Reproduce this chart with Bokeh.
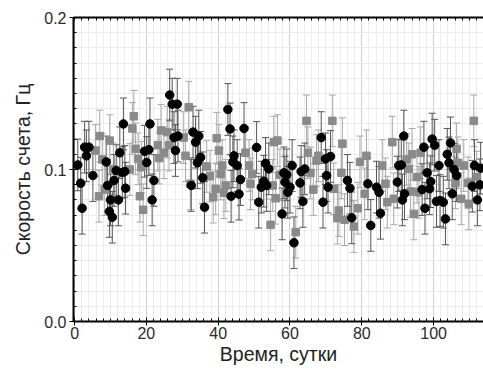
from bokeh.plotting import figure
from bokeh.models import (ColumnDataSource, Whisker, TeeHead, FixedTicker,
                          LinearAxis, Range1d, PrintfTickFormatter)
from bokeh.embed import file_html
from bokeh.resources import INLINE

# Count rate of two detectors, days vs Hz
black_t = [0.9, 1.7, 2.1, 2.8, 3.3, 4.0, 5.1, 8.8, 9.2, 9.7, 10.0, 10.5, 11.0, 11.6,
           12.2, 12.6, 13.3, 13.6, 14.0, 14.2, 19.5, 20.1, 20.7, 21.0, 21.6, 22.1,
           26.5, 27.2, 27.7, 28.1, 28.6, 28.8, 32.5, 33.0, 33.7, 34.2, 34.6, 35.1,
           35.7, 36.2, 42.7, 43.3, 43.6, 44.1, 44.4, 45.3, 45.8, 46.2, 47.2, 50.7,
           51.3, 52.0, 52.7, 53.2, 53.5, 54.1, 57.8, 58.3, 58.6, 59.1, 59.4, 60.0,
           60.6, 61.1, 62.8, 63.1, 63.6, 64.1, 68.7, 69.2, 69.9, 70.2, 70.6, 71.3,
           76.0, 76.7, 77.2, 81.7, 82.5, 84.1, 84.8, 85.2, 89.9, 90.3, 91.0, 91.3,
           91.7, 91.9, 96.8, 97.3, 97.6, 98.2, 98.9, 99.2, 99.6, 100.3, 100.8,
           101.5, 101.8, 102.7, 103.3, 103.8, 104.3, 104.7, 105.2, 105.7, 106.4,
           110.8, 111.4, 112.2, 112.9, 113.1]
black_rate = [0.103, 0.091, 0.0745, 0.1147, 0.109, 0.1147, 0.096, 0.105, 0.0895,
              0.0724, 0.080, 0.0686, 0.0928, 0.0993, 0.080, 0.111, 0.098, 0.130,
              0.0987, 0.0877, 0.112, 0.1046, 0.113, 0.130, 0.080, 0.0928, 0.149,
              0.143, 0.121, 0.1125, 0.143, 0.122, 0.0895, 0.1246, 0.118, 0.1044,
              0.122, 0.108, 0.0945, 0.0752, 0.1395, 0.1267, 0.0824, 0.105, 0.109,
              0.1026, 0.0838, 0.0934, 0.127, 0.1145, 0.0785, 0.0884, 0.0923, 0.104,
              0.0895, 0.1004, 0.0708, 0.0978, 0.0917, 0.0965, 0.085, 0.0884, 0.1026,
              0.0518, 0.0912, 0.0987, 0.079, 0.1004, 0.121, 0.0785, 0.107, 0.096,
              0.0884, 0.1086, 0.0928, 0.0877, 0.0682, 0.0906, 0.0632, 0.0884, 0.085,
              0.0712, 0.0917, 0.1026, 0.103, 0.080, 0.122, 0.084, 0.0868, 0.1147,
              0.0745, 0.0978, 0.0873, 0.092, 0.120, 0.116, 0.079, 0.1026, 0.0796,
              0.0785, 0.0675, 0.110, 0.1044, 0.1175, 0.084, 0.100, 0.096, 0.089,
              0.1026, 0.080, 0.0899, 0.1009]
black_err = 0.017

gray_t = [5.8, 6.8, 7.0, 7.7, 8.4, 9.8, 10.8, 15.4, 16.1, 16.5, 17.0, 17.7, 18.2,
          18.6, 19.1, 23.2, 23.6, 24.1, 24.9, 25.8, 26.3, 30.4, 30.9, 31.8, 32.3,
          36.8, 37.7, 38.6, 39.3, 39.6, 40.2, 40.7, 41.1, 41.6, 42.1, 47.6, 48.6,
          49.0, 49.5, 54.6, 55.2, 55.5, 56.0, 56.5, 57.2, 61.6, 64.6, 65.0, 65.7,
          66.5, 67.4, 67.9, 71.8, 72.2, 73.2, 73.6, 74.3, 74.6, 75.2, 77.8, 78.9,
          79.5, 80.8, 81.3, 85.7, 86.6, 87.1, 88.5, 88.9, 92.5, 93.1, 93.6, 94.0,
          94.5, 95.4, 95.9, 96.4, 106.1, 106.4, 106.8, 107.7, 108.4, 109.6, 109.8,
          111.2, 112.0]
gray_rate = [0.1125, 0.0824, 0.122, 0.1066, 0.0868, 0.119, 0.1004, 0.100, 0.127,
             0.135, 0.1136, 0.107, 0.0824, 0.1015, 0.0735, 0.116, 0.1075, 0.1257,
             0.111, 0.1246, 0.116, 0.121, 0.109, 0.141, 0.0906, 0.102, 0.0956,
             0.0818, 0.0873, 0.1206, 0.1125, 0.097, 0.1026, 0.0847, 0.0895, 0.111,
             0.1026, 0.0906, 0.097, 0.0636, 0.0895, 0.118, 0.0811, 0.119, 0.0965,
             0.0588, 0.132, 0.111, 0.0977, 0.0868, 0.1059, 0.109, 0.132, 0.0873,
             0.068, 0.073, 0.0978, 0.117, 0.067, 0.0625, 0.0745, 0.105, 0.084,
             0.109, 0.1026, 0.0906, 0.0785, 0.118, 0.0807, 0.1066, 0.1004, 0.0855,
             0.110, 0.0708, 0.095, 0.085, 0.111, 0.0912, 0.1136, 0.1044, 0.0807,
             0.1026, 0.0912, 0.0774, 0.132, 0.095]
gray_err = 0.017

x_ticks = [0, 20, 40, 60, 80, 100, 120]
y_ticks = [0.0, 0.1, 0.2]
x_label = "Время, сутки"
y_label = "Скорость счета, Гц"

FONT = "Liberation Sans"


def with_bars(t, r, e):
    return ColumnDataSource(dict(t=t, r=r,
                                 lo=[v - e for v in r],
                                 hi=[v + e for v in r]))


src_black = with_bars(black_t, black_rate, black_err)
src_gray = with_bars(gray_t, gray_rate, gray_err)

p = figure(width=483, height=374, output_backend="svg", toolbar_location=None,
           x_range=Range1d(-0.3, 113.9), y_range=Range1d(0.0, 0.2),
           min_border_left=73, min_border_right=0, min_border_top=17,
           min_border_bottom=53, background_fill_color="white",
           border_fill_color="white")
p.outline_line_color = None

x_minor = [v * 2 for v in range(0, 61)]
y_minor = [v / 100 for v in range(0, 21)]
xt = FixedTicker(ticks=x_ticks, minor_ticks=x_minor)
yt = FixedTicker(ticks=y_ticks, minor_ticks=y_minor)

p.xaxis.ticker = xt
p.yaxis.ticker = yt
p.xgrid.ticker = xt
p.ygrid.ticker = yt

for g in (p.xgrid, p.ygrid):
    g.grid_line_color = "#cfcfcf"
    g.grid_line_width = 1
    g.minor_grid_line_color = "#ececec"
    g.minor_grid_line_width = 1

p.yaxis.formatter = PrintfTickFormatter(format="%.1f")
p.xaxis.axis_label = x_label
p.yaxis.axis_label = y_label

for ax in (p.xaxis, p.yaxis):
    ax.axis_line_color = "black"
    ax.axis_line_width = 2
    ax.major_tick_line_color = "black"
    ax.minor_tick_line_color = "black"
    ax.major_tick_in = 4
    ax.major_tick_out = 4
    ax.minor_tick_in = 3
    ax.minor_tick_out = 0
    ax.major_label_text_font = FONT
    ax.major_label_text_font_size = "16px"
    ax.major_label_text_color = "#2a2a2a"
    ax.axis_label_text_font = FONT
    ax.axis_label_text_font_size = "19.5px"
    ax.axis_label_text_font_style = "normal"
    ax.axis_label_text_color = "#222222"

p.xaxis.major_label_standoff = 1
p.xaxis.axis_label_standoff = 1
p.yaxis.major_label_standoff = 3
p.yaxis.axis_label_standoff = 7

# frame top edge with inward ticks only
top_ticker = FixedTicker(ticks=[], minor_ticks=x_minor)
top = LinearAxis(ticker=top_ticker,
                 axis_line_color="black", axis_line_width=2,
                 major_tick_in=0, major_tick_out=0,
                 minor_tick_line_color="black",
                 minor_tick_in=3, minor_tick_out=0)
p.add_layout(top, "above")

# error bars
p.add_layout(Whisker(source=src_gray, base="t", lower="lo", upper="hi",
                     line_color="#a8a8a8", line_width=1,
                     upper_head=TeeHead(size=7, line_color="#a8a8a8"),
                     lower_head=TeeHead(size=7, line_color="#a8a8a8")))
p.add_layout(Whisker(source=src_black, base="t", lower="lo", upper="hi",
                     line_color="#555555", line_width=1,
                     upper_head=TeeHead(size=7, line_color="#555555"),
                     lower_head=TeeHead(size=7, line_color="#555555")))

# markers
p.scatter("t", "r", source=src_gray, marker="square", size=7.5,
          fill_color="#8a8a8a", line_color="#8a8a8a")
p.scatter("t", "r", source=src_black, marker="circle", size=8.5,
          fill_color="black", line_color="black")

open("out.html", "w").write(file_html(p, INLINE))
